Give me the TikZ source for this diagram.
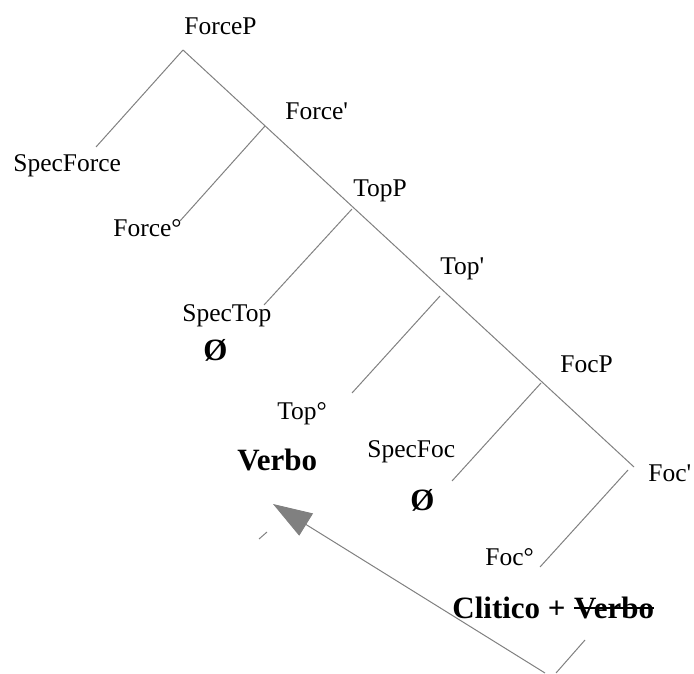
\documentclass[tikz,border=0pt]{standalone}
\usepackage{fontspec}
\newfontfamily\tfont{Liberation Serif}
\usetikzlibrary{arrows.meta}
\definecolor{lg}{HTML}{808080}
\begin{document}
\begin{tikzpicture}[x=0.5pt,y=-0.5pt,
  lbl/.style={anchor=base west,inner sep=0pt,font=\tfont\fontsize{12.75}{15}\selectfont},
  big/.style={anchor=base west,inner sep=0pt,font=\tfont\bfseries\fontsize{15.5}{18}\selectfont},
  br/.style={draw=lg,line width=0.5pt},
  strike/.style={draw=black,line width=1pt}]
\useasboundingbox (0,0) rectangle (694,673);
% labels
\node[lbl] (lForceP) at (184,35) {ForceP};
\node[lbl] (lForceBar) at (285,120) {Force'};
\node[lbl] (lSpecForce) at (13,172) {SpecForce};
\node[lbl] (lForceH) at (113,237) {Force°};
\node[lbl] (lTopP) at (353,197) {TopP};
\node[lbl] (lTopBar) at (440,274) {Top'};
\node[lbl] (lSpecTop) at (182,321) {SpecTop};
\node[big] (lZero1) at (203,360) {Ø};
\node[lbl] (lTopH) at (277,419) {Top°};
\node[big] (lVerbo) at (237,470) {Verbo};
\node[lbl] (lSpecFoc) at (367,457) {SpecFoc};
\node[big] (lZero2) at (410,510) {Ø};
\node[lbl] (lFocP) at (560,372) {FocP};
\node[lbl] (lFocBar) at (648,481) {Foc'};
\node[lbl] (lFocH) at (485,565) {Foc°};
\node[big] (lClitico) at (452,618) {Clitico +};
\node[big] (lVerboS) at ([xshift=3.9pt]lClitico.base east) {Verbo};
\draw[strike] ([yshift=5pt]lVerboS.base west) -- ([yshift=5pt]lVerboS.base east);
% junction coordinates
\coordinate (forceP) at (183,50);
\coordinate (specF) at (96,147);
\coordinate (forceB) at (265,126);
\coordinate (forceH) at (180,221);
\coordinate (topP) at (352,209);
\coordinate (specT) at (264,305);
\coordinate (topB) at (440,296);
\coordinate (topH) at (352,393);
\coordinate (focP) at (541,383);
\coordinate (specFc) at (452,481);
\coordinate (spineEnd) at (634,467);
\coordinate (focB) at (628,470);
\coordinate (focH) at (540,567);
\coordinate (tickA) at (267,532);
\coordinate (tickB) at (259,539);
\coordinate (arrTail) at (545,673);
\coordinate (arrTip) at (273,504);
\coordinate (vA) at (585,640);
\coordinate (vB) at (556,673);
% branches
\draw[br] (forceP) -- (spineEnd);
\draw[br] (forceP) -- (specF);
\draw[br] (forceB) -- (forceH);
\draw[br] (topP) -- (specT);
\draw[br] (topB) -- (topH);
\draw[br] (focP) -- (specFc);
\draw[br] (focB) -- (focH);
\draw[br] (tickA) -- (tickB);
\draw[br] (vA) -- (vB);
\draw[br,-{Triangle[length=19.5pt,width=13pt,fill=lg]}] (arrTail) -- (arrTip);
\end{tikzpicture}
\end{document}
